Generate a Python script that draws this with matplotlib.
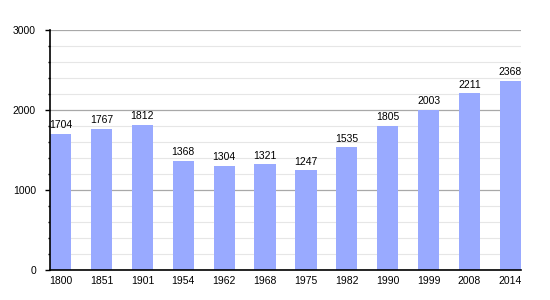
import matplotlib
matplotlib.use("Agg")
import matplotlib.pyplot as plt
from matplotlib.ticker import MultipleLocator

years = ["1800", "1851", "1901", "1954", "1962", "1968", "1975", "1982", "1990", "1999", "2008", "2014"]
population = [1704, 1767, 1812, 1368, 1304, 1321, 1247, 1535, 1805, 2003, 2211, 2368]

plt.rcParams['font.family'] = ['Liberation Sans', 'DejaVu Sans']

fig = plt.figure(figsize=(5.5, 3.0), dpi=100)
ax = fig.add_axes([50/550, 30/300, 471/550, 240/300])

x = list(range(len(years)))
w = 0.52
ax.bar(x, population, width=w, color="#99aaff", zorder=2)
for xi, v in zip(x, population):
    ax.text(xi, v + 45, str(v), ha="center", va="bottom", fontsize=7.5, color="black", zorder=3)

ax.set_xlim(-w/2, len(years) - 1 + w/2)
ax.set_ylim(0, 3000)
ax.set_xticks(x)
ax.set_xticklabels(years, fontsize=7.5)
ax.yaxis.set_major_locator(MultipleLocator(1000))
ax.yaxis.set_minor_locator(MultipleLocator(200))
ax.tick_params(axis="y", which="major", length=3.6, width=1, labelsize=7.5, pad=6.5)
ax.tick_params(axis="y", which="minor", length=1.6, width=1)
ax.tick_params(axis="x", length=0, pad=4)
ax.grid(axis="y", which="major", color="#a8a8a8", linewidth=0.9, zorder=0)
ax.grid(axis="y", which="minor", color="#e6e6e6", linewidth=0.8, zorder=0)
ax.set_axisbelow(True)
for s in ["top", "right"]:
    ax.spines[s].set_visible(False)
ax.spines["left"].set_linewidth(1.2)
ax.spines["bottom"].set_linewidth(1.2)
ax.spines["left"].set_zorder(4)

fig.savefig("out.png", dpi=100)
